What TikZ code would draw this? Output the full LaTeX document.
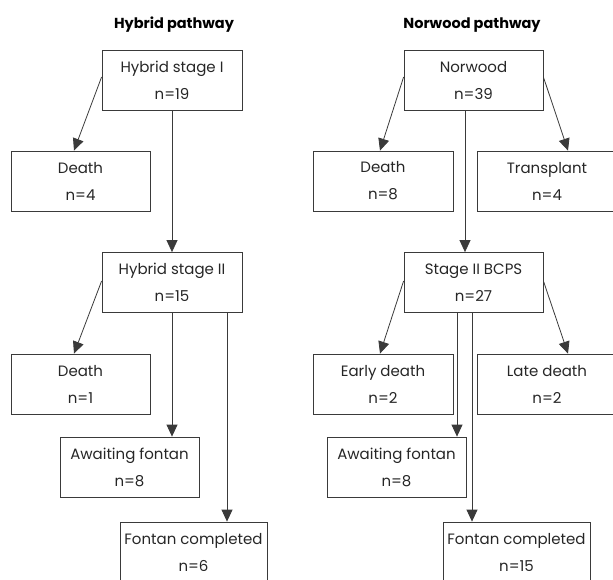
\documentclass[tikz,border=0pt]{standalone}
\usepackage{fontspec}
\setmainfont{Poppins}
\usetikzlibrary{arrows.meta}
\definecolor{edgegray}{HTML}{3A3A3A}
\begin{document}
\begin{tikzpicture}[x=1pt,y=-1pt,
  box/.style={draw=edgegray, line width=0.8pt, minimum width=140pt, minimum height=60pt,
    inner sep=0pt, align=center, font=\fontsize{15}{27}\selectfont, text=black!85},
  title/.style={font=\fontsize{14.5}{16}\selectfont\bfseries, text=black},
  conn/.style={draw=edgegray, line width=0.8pt, -{Triangle[length=12pt,width=11pt]}}
]
\useasboundingbox (0,0) rectangle (613,579);
\clip (0,0) rectangle (613,579);
% titles
\node[title] (th) at (174,25) {Hybrid pathway};
\node[title] (tn) at (472,25) {Norwood pathway};
% hybrid
\node[box] (s1) at (172,80) {Hybrid stage I\\n=19};
\node[box, minimum width=139pt] (d1) at (80.5,181) {Death\\n=4};
\node[box] (s2) at (172,282.5) {Hybrid stage II\\n=15};
\node[box, minimum width=139pt] (d2) at (80.5,384) {Death\\n=1};
\node[box, minimum width=139pt] (aw1) at (129.5,467) {Awaiting fontan\\n=8};
\node[box, minimum width=147pt] (fc1) at (193.5,552) {Fontan completed\\n=6};
% norwood
\node[box, minimum width=139pt] (nw) at (473.5,80) {Norwood\\n=39};
\node[box] (dn) at (383,181) {Death\\n=8};
\node[box] (tp) at (547,181) {Transplant\\n=4};
\node[box, minimum width=139pt] (bc) at (473.5,282.5) {Stage II BCPS\\n=27};
\node[box] (ed) at (383,384) {Early death\\n=2};
\node[box] (ld) at (547,384) {Late death\\n=2};
\node[box, minimum width=139pt] (aw2) at (396.5,467) {Awaiting fontan\\n=8};
\node[box, minimum width=147pt] (fc2) at (516.5,552) {Fontan completed\\n=15};
% hybrid connectors
\draw[conn] ([yshift=3pt]s1.west) -- ([xshift=-6.5pt]d1.north);
\draw[conn] (s1.south) -- (s2.north);
\draw[conn] ([yshift=1.5pt]s2.west) -- ([xshift=-6.5pt]d2.north);
\draw[conn] (s2.south) -- (s2.south |- aw1.north);
\draw[conn] ([xshift=55pt]s2.south) -- ([xshift=55pt]s2.south |- fc1.north);
% norwood connectors
\draw[conn] ([yshift=3pt]nw.west) -- ([xshift=-3pt]dn.north);
\draw[conn] ([yshift=3pt]nw.east) -- ([xshift=21pt]tp.north);
\draw[conn] ([xshift=-8.5pt]nw.south) -- ([xshift=-8.5pt]nw.south |- bc.north);
\draw[conn] ([yshift=1.5pt]bc.west) -- ([xshift=-3pt]ed.north);
\draw[conn] ([yshift=1.5pt]bc.east) -- ([xshift=21pt]ld.north);
\draw[conn] ([xshift=-16.5pt]bc.south) -- ([xshift=-16.5pt]bc.south |- aw2.north);
\draw[conn] ([xshift=-1.5pt]bc.south) -- ([xshift=-1.5pt]bc.south |- fc2.north);
\end{tikzpicture}
\end{document}
